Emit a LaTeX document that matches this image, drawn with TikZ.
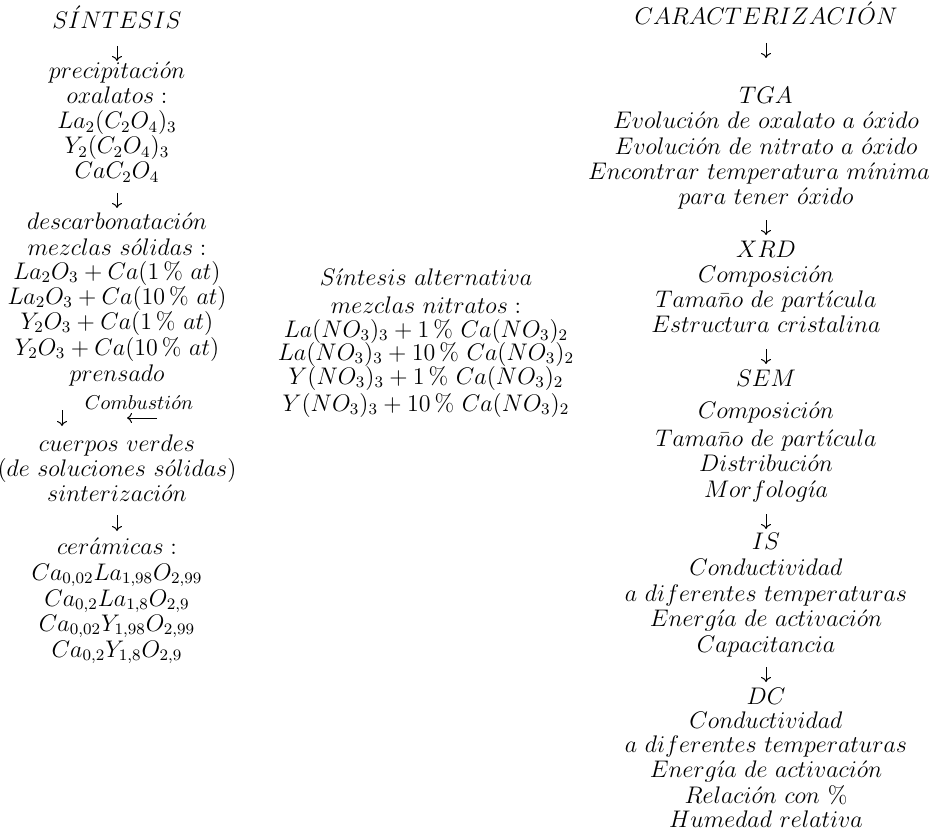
\documentclass[tikz,border=0pt]{standalone}
\usetikzlibrary{arrows.meta}
\begin{document}
\begin{tikzpicture}[x=0.5pt,y=-0.5pt,
  ln/.style={anchor=base, inner sep=0pt, outer sep=0pt, text height=8pt, text depth=3pt,
             font=\fontsize{11.8}{14}\selectfont},
  arr/.style={line width=0.5pt, -{Computer Modern Rightarrow[length=2.5pt,width=5pt]}},
  lbl/.style={inner sep=0pt, font=\fontsize{9.6}{11}\selectfont}]
\useasboundingbox (0,0) rectangle (930,834);
% ---------------- left column ----------------
\node[ln] (l1)  at (117,29)  {$S\acute{I}NTESIS$};
\node[ln] (l2)  at (117,79)  {$precipitaci\acute{o}n$};
\node[ln] (l3)  at (117,104) {$oxalatos:$};
\node[ln] (l4)  at (117,129) {$La_2(C_2O_4)_3$};
\node[ln] (l5)  at (117,154) {$Y_2(C_2O_4)_3$};
\node[ln] (l6)  at (117,179) {$CaC_2O_4$};
\node[ln] (l7)  at (117,229) {$descarbonataci\acute{o}n$};
\node[ln] (l8)  at (117,255) {$mezclas\ s\acute{o}lidas:$};
\node[ln] (l9)  at (117,279) {$La_2O_3+Ca(1\,\%\ at)$};
\node[ln] (l10) at (117,304) {$La_2O_3+Ca(10\,\%\ at)$};
\node[ln] (l11) at (117,329) {$Y_2O_3+Ca(1\,\%\ at)$};
\node[ln] (l12) at (117,355) {$Y_2O_3+Ca(10\,\%\ at)$};
\node[ln] (l13) at (117,381) {$prensado$};
\node[ln] (l14) at (117,451) {$cuerpos\ verdes$};
\node[ln] (l15) at (117,476) {$(de\ soluciones\ s\acute{o}lidas)$};
\node[ln] (l16) at (117,501) {$sinterizaci\acute{o}n$};
\node[ln] (l17) at (117,554) {$cer\acute{a}micas:$};
\node[ln] (l18) at (117,580) {$Ca_{0,02}La_{1,98}O_{2,99}$};
\node[ln] (l19) at (117,606) {$Ca_{0,2}La_{1,8}O_{2,9}$};
\node[ln] (l20) at (117,631) {$Ca_{0,02}Y_{1,98}O_{2,99}$};
\node[ln] (l21) at (117,657) {$Ca_{0,2}Y_{1,8}O_{2,9}$};
\coordinate (dleft) at (62,418);
\coordinate (cfrom) at (157,418);
\coordinate (cto) at (127,418);
\draw[arr, shorten <=5.5pt, shorten >=1pt] (l1) -- (l2);
\draw[arr, shorten <=4pt, shorten >=2.5pt] (l6) -- (l7);
\draw[arr, shorten <=11.5pt, shorten >=4.5pt] (l13.south -| dleft) -- (l14.north -| dleft);
\draw[arr, shorten <=4pt, shorten >=3.5pt] (l16) -- (l17);
\draw[arr] (cfrom) -- node[midway, above=4pt, xshift=-1.5pt, lbl] {$Combusti\acute{o}n$} (cto);
% ---------------- middle column ----------------
\node[ln] (m1) at (426,285) {$S\acute{\imath}ntesis\ alternativa$};
\node[ln] (m2) at (426,313) {$mezclas\ nitratos:$};
\node[ln] (m3) at (426,337) {$La(NO_3)_3+1\,\%\ Ca(NO_3)_2$};
\node[ln] (m4) at (426,360) {$La(NO_3)_3+10\,\%\ Ca(NO_3)_2$};
\node[ln] (m5) at (426,384) {$Y(NO_3)_3+1\,\%\ Ca(NO_3)_2$};
\node[ln] (m6) at (426,411) {$Y(NO_3)_3+10\,\%\ Ca(NO_3)_2$};
% ---------------- right column ----------------
\node[ln] (r1)  at (766,25)  {$CARACTERIZACI\acute{O}N$};
\node[ln] (r2)  at (766,104) {$TGA$};
\node[ln] (r3)  at (766,129) {$Evoluci\acute{o}n\ de\ oxalato\ a\ \acute{o}xido$};
\node[ln] (r4)  at (766,155) {$Evoluci\acute{o}n\ de\ nitrato\ a\ \acute{o}xido$};
\node[ln] (r5)  at (759,180) {$Encontrar\ temperatura\ m\acute{\imath}nima$};
\node[ln] (r6)  at (766,205) {$para\ tener\ \acute{o}xido$};
\node[ln] (r7)  at (766,257) {$XRD$};
\node[ln] (r8)  at (766,282) {$Composici\acute{o}n$};
\node[ln] (r9)  at (766,307) {$Tama\bar{n}o\ de\ part\acute{\imath}cula$};
\node[ln] (r10) at (766,332) {$Estructura\ cristalina$};
\node[ln] (r11) at (766,386) {$SEM$};
\node[ln] (r12) at (766,418) {$Composici\acute{o}n$};
\node[ln] (r13) at (766,446) {$Tama\bar{n}o\ de\ part\acute{\imath}cula$};
\node[ln] (r14) at (766,471) {$Distribuci\acute{o}n$};
\node[ln] (r15) at (766,497) {$Morfolog\acute{\imath}a$};
\node[ln] (r16) at (766,549) {$IS$};
\node[ln] (r17) at (766,575) {$Conductividad$};
\node[ln] (r18) at (766,601) {$a\ diferentes\ temperaturas$};
\node[ln] (r19) at (766,626) {$Energ\acute{\imath}a\ de\ activaci\acute{o}n$};
\node[ln] (r20) at (766,652) {$Capacitancia$};
\node[ln] (r21) at (766,704) {$DC$};
\node[ln] (r22) at (766,728) {$Conductividad$};
\node[ln] (r23) at (766,752) {$a\ diferentes\ temperaturas$};
\node[ln] (r24) at (766,777) {$Energ\acute{\imath}a\ de\ activaci\acute{o}n$};
\node[ln] (r25) at (766,803) {$Relaci\acute{o}n\ con\ \%$};
\node[ln] (r26) at (766,827) {$Humedad\ relativa$};
\draw[arr, shorten <=6pt, shorten >=15pt] (r1) -- (r2);
\draw[arr, shorten <=4.5pt, shorten >=3pt] (r6) -- (r7);
\draw[arr, shorten <=5.5pt, shorten >=3pt] (r10) -- (r11);
\draw[arr, shorten <=5.5pt, shorten >=2pt] (r15) -- (r16);
\draw[arr, shorten <=4.5pt, shorten >=3pt] (r20) -- (r21);
\end{tikzpicture}
\end{document}
